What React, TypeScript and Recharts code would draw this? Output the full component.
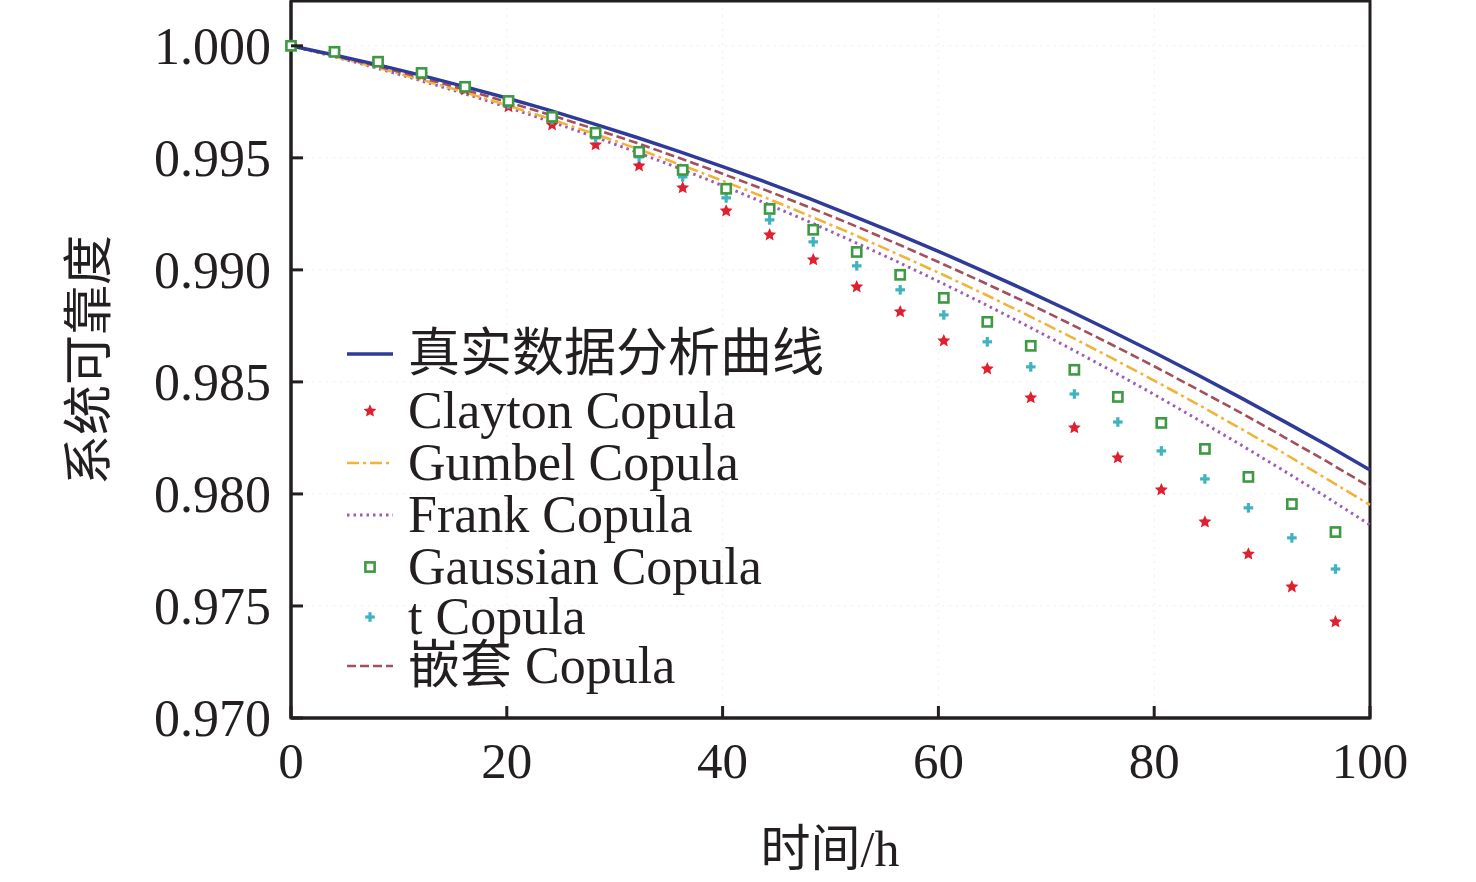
import React from 'react';
import { ComposedChart, Line, XAxis, YAxis, CartesianGrid, Legend, Label, ReferenceArea } from 'recharts';

// curve sample times (h)
const hours = [0, 4, 8, 12, 16, 20, 24, 28, 32, 36, 40, 44, 48, 52, 56, 60, 64, 68, 72, 76, 80, 84, 88, 92, 96, 100];
// marker sample times (h)
const markerHours = [0, 4.03, 8.07, 12.1, 16.13, 20.16, 24.2, 28.23, 32.26, 36.3, 40.33, 44.36, 48.4, 52.43, 56.46, 60.5, 64.53, 68.56, 72.6, 76.63, 80.66, 84.7, 88.73, 92.76, 96.8];

// curves
const realData = [1.0, 0.99959, 0.99916, 0.99869, 0.99819, 0.99767, 0.99712, 0.99653, 0.99592, 0.99528, 0.99461, 0.99392, 0.99319, 0.99242, 0.99164, 0.99083, 0.98998, 0.98911, 0.98821, 0.98727, 0.98631, 0.98532, 0.9843, 0.98325, 0.98218, 0.98107];
const gumbel = [1.0, 0.99953, 0.99903, 0.9985, 0.99794, 0.99735, 0.99674, 0.99609, 0.99542, 0.99471, 0.99398, 0.99322, 0.99242, 0.99161, 0.99075, 0.98988, 0.98898, 0.98804, 0.98708, 0.98608, 0.98506, 0.98401, 0.98292, 0.98182, 0.98067, 0.97951];
const frank = [1.0, 0.99952, 0.999, 0.99845, 0.99788, 0.99727, 0.99663, 0.99596, 0.99526, 0.99453, 0.99376, 0.99297, 0.99215, 0.99129, 0.99041, 0.98949, 0.98854, 0.98756, 0.98655, 0.98551, 0.98444, 0.98333, 0.9822, 0.98104, 0.97985, 0.97862];
const nested = [1.0, 0.99956, 0.99909, 0.99859, 0.99806, 0.9975, 0.99692, 0.99631, 0.99567, 0.99499, 0.99429, 0.99356, 0.9928, 0.99202, 0.9912, 0.99035, 0.98948, 0.98858, 0.98764, 0.98668, 0.9857, 0.98467, 0.98363, 0.98255, 0.98145, 0.98031];

// markers
const clayton = [1.0, 0.99971, 0.99925, 0.99871, 0.99804, 0.99728, 0.99647, 0.99558, 0.99464, 0.99366, 0.99263, 0.99156, 0.99045, 0.98924, 0.98813, 0.98683, 0.98558, 0.98429, 0.98295, 0.98161, 0.98018, 0.97875, 0.97732, 0.97585, 0.97429];
const gaussian = [1.0, 0.99973, 0.99929, 0.99879, 0.99817, 0.99754, 0.99683, 0.99612, 0.99527, 0.99446, 0.99362, 0.99272, 0.99179, 0.9908, 0.98978, 0.98875, 0.98768, 0.98661, 0.98554, 0.98433, 0.98317, 0.98201, 0.98076, 0.97955, 0.9783];
const tCopula = [1.0, 0.99973, 0.99929, 0.99875, 0.99813, 0.99741, 0.9967, 0.99589, 0.99504, 0.99415, 0.99321, 0.99223, 0.99125, 0.99018, 0.98911, 0.98799, 0.98679, 0.98567, 0.98446, 0.98321, 0.98192, 0.98067, 0.97938, 0.97804, 0.97665];

const xTicks = [0, 20, 40, 60, 80, 100];
const yTicks = [0.97, 0.975, 0.98, 0.985, 0.99, 0.995, 1.0];

const curveData = hours.map((t, i) => ({
  t,
  real: realData[i],
  gumbel: gumbel[i],
  frank: frank[i],
  nested: nested[i],
}));

const markerData = markerHours.map((t, i) => ({
  t,
  clayton: clayton[i],
  gaussian: gaussian[i],
  tCopula: tCopula[i],
}));

const INK = '#231f20';
const SERIF = '"Liberation Serif", "Times New Roman", "Noto Sans CJK SC", serif';
const COLORS = {
  real: '#2e3b98',
  clayton: '#e0202e',
  gumbel: '#f2b33a',
  frank: '#9b5cb8',
  gaussian: '#3d9a42',
  tCopula: '#3fb3bf',
  nested: '#a44f5c',
};

function starPath(cx: number, cy: number, r: number) {
  const pts: string[] = [];
  for (let k = 0; k < 10; k++) {
    const rr = k % 2 === 0 ? r : r * 0.47;
    const a = -Math.PI / 2 + (k * Math.PI) / 5;
    pts.push(`${cx + rr * Math.cos(a)},${cy + rr * Math.sin(a)}`);
  }
  return `M${pts.join('L')}Z`;
}

const Star = ({ cx, cy }: { cx: number; cy: number }) => (
  <path d={starPath(cx, cy, 6.8)} fill={COLORS.clayton} />
);
const Square = ({ cx, cy }: { cx: number; cy: number }) => (
  <rect x={cx - 4.6} y={cy - 4.6} width={9.2} height={9.2} fill="#fff" stroke={COLORS.gaussian} strokeWidth={2.6} />
);
const Plus = ({ cx, cy }: { cx: number; cy: number }) => (
  <g stroke={COLORS.tCopula} strokeWidth={3.2}>
    <line x1={cx - 4.8} y1={cy} x2={cx + 4.8} y2={cy} />
    <line x1={cx} y1={cy - 4.8} x2={cx} y2={cy + 4.8} />
  </g>
);

function markerDot(Shape: React.FC<{ cx: number; cy: number }>) {
  return (props: any) => {
    const { cx, cy, index } = props;
    if (cx == null || cy == null || Number.isNaN(cy)) return <g key={`e-${index}`} />;
    return <Shape key={`m-${index}`} cx={cx} cy={cy} />;
  };
}

const YTick = (props: any) => {
  const { x, y, payload } = props;
  return (
    <g>
      <line x1={x} y1={y} x2={x + 12} y2={y} stroke={INK} strokeWidth={3} />
      <text x={x - 20} y={y} dy="0.35em" textAnchor="end" fontFamily={SERIF} fontSize={52} fill={INK}>
        {Number(payload.value).toFixed(3)}
      </text>
    </g>
  );
};

const XTick = (props: any) => {
  const { x, y, payload } = props;
  return (
    <g>
      <line x1={x} y1={y} x2={x} y2={y - 12} stroke={INK} strokeWidth={3} />
      <text x={x} y={y + 60} textAnchor="middle" fontFamily={SERIF} fontSize={51} fill={INK}>
        {payload.value}
      </text>
    </g>
  );
};

const legendItems = [
  { name: '真实数据分析曲线', kind: 'line', color: COLORS.real, dash: undefined, width: 3.5, shift: 0 },
  { name: 'Clayton Copula', kind: 'star', color: COLORS.clayton, shift: 5 },
  { name: 'Gumbel Copula', kind: 'line', color: COLORS.gumbel, dash: '12 4 3 4', width: 2.6, shift: 5 },
  { name: 'Frank Copula', kind: 'line', color: COLORS.frank, dash: '2.5 4', width: 3, shift: 5 },
  { name: 'Gaussian Copula', kind: 'square', color: COLORS.gaussian, shift: 5 },
  { name: 't Copula', kind: 'plus', color: COLORS.tCopula, shift: 3 },
  { name: '嵌套 Copula', kind: 'line', color: COLORS.nested, dash: '9 4', width: 2.6, shift: 0 },
];

const renderLegend = () => (
  <div style={{ fontFamily: SERIF, fontSize: 52, color: INK, lineHeight: '52px' }}>
    {legendItems.map((item) => (
      <div key={item.name} style={{ display: 'flex', alignItems: 'center', height: 52, position: 'relative', top: item.shift }}>
        <svg width={62} height={20}>
          {item.kind === 'line' && (
            <line x1={1} y1={10} x2={47} y2={10} stroke={item.color} strokeWidth={item.width} strokeDasharray={item.dash} />
          )}
          {item.kind === 'star' && <Star cx={24} cy={10} />}
          {item.kind === 'square' && <Square cx={24} cy={10} />}
          {item.kind === 'plus' && <Plus cx={24} cy={10} />}
        </svg>
        <span style={{ whiteSpace: 'nowrap' }}>{item.name}</span>
      </div>
    ))}
  </div>
);

export default function App() {
  return (
    <div style={{ position: 'absolute', left: 0, top: 0, width: 1476, height: 882, background: '#fff' }}>
      <ComposedChart width={1476} height={882} data={curveData} margin={{ top: 1, right: 106, left: 0, bottom: 0 }}>
        <CartesianGrid stroke="#efefef" strokeDasharray="2 5" />
        <XAxis
          dataKey="t"
          type="number"
          domain={[0, 100]}
          ticks={xTicks}
          height={164}
          tickSize={0}
          tickMargin={0}
          tick={<XTick />}
          axisLine={{ stroke: INK, strokeWidth: 3 }}
          tickLine={false}
        >
          <Label
            content={() => (
              <text x={830} y={848} dy="0.35em" textAnchor="middle" fontFamily={SERIF} fontSize={50} fill={INK}>
                时间/h
              </text>
            )}
          />
        </XAxis>
        <YAxis
          type="number"
          domain={[0.97, 1.002]}
          ticks={yTicks}
          allowDataOverflow
          width={291}
          tickSize={0}
          tickMargin={0}
          tick={<YTick />}
          axisLine={{ stroke: INK, strokeWidth: 3 }}
          tickLine={false}
        >
          <Label
            content={() => (
              <text
                x={88}
                y={360}
                dy="0.35em"
                transform="rotate(-90 88 360)"
                textAnchor="middle"
                fontFamily={SERIF}
                fontSize={50}
                fill={INK}
              >
                系统可靠度
              </text>
            )}
          />
        </YAxis>
        <ReferenceArea x1={0} x2={100} y1={0.97} y2={1.002} fill="none" stroke={INK} strokeWidth={3} ifOverflow="visible" />
        <Legend content={renderLegend} layout="horizontal" verticalAlign="middle" align="center" wrapperStyle={{ position: 'absolute', left: 346, top: 328, width: 'auto' }} />

        <Line dataKey="frank" stroke={COLORS.frank} strokeWidth={3} strokeDasharray="2.5 4" dot={false} isAnimationActive={false} />
        <Line dataKey="gumbel" stroke={COLORS.gumbel} strokeWidth={2.6} strokeDasharray="12 4 3 4" dot={false} isAnimationActive={false} />
        <Line dataKey="nested" stroke={COLORS.nested} strokeWidth={2.6} strokeDasharray="9 4" dot={false} isAnimationActive={false} />
        <Line dataKey="real" stroke={COLORS.real} strokeWidth={3.5} dot={false} isAnimationActive={false} />

        <Line data={markerData} dataKey="clayton" stroke="none" dot={markerDot(Star)} activeDot={false} isAnimationActive={false} />
        <Line data={markerData} dataKey="tCopula" stroke="none" dot={markerDot(Plus)} activeDot={false} isAnimationActive={false} />
        <Line data={markerData} dataKey="gaussian" stroke="none" dot={markerDot(Square)} activeDot={false} isAnimationActive={false} />
      </ComposedChart>
    </div>
  );
}
